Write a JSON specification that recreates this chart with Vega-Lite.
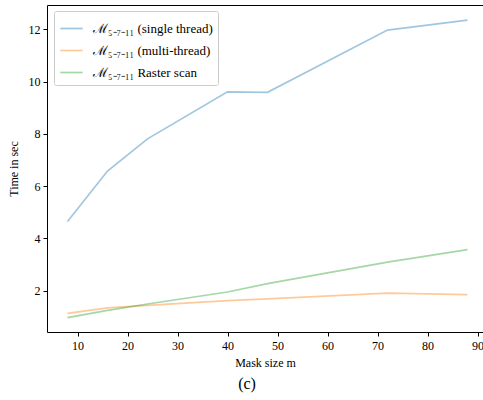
{
  "$schema": "https://vega.github.io/schema/vega-lite/v6.json",
  "width": 436,
  "height": 327,
  "autosize": "none",
  "padding": {"left": 47, "top": 5, "right": 0, "bottom": 68},
  "background": "white",
  "config": {
    "font": "Liberation Serif",
    "view": {"stroke": "black", "strokeWidth": 1},
    "axis": {"grid": false, "domain": false, "tickColor": "black", "tickSize": 4, "labelColor": "black", "titleColor": "black", "labelFont": "Liberation Serif", "titleFont": "Liberation Serif", "labelFontSize": 12, "titleFontSize": 12, "titleFontWeight": "normal"}
  },
  "title": {"text": "(c)", "orient": "bottom", "anchor": "middle", "fontSize": 16, "fontWeight": "normal", "font": "Liberation Serif", "offset": 8, "dx": -18, "color": "black"},
  "data": {"values": [
    {"m": 8, "t": 4.65, "s": "ℳ₅₋₇₋₁₁ (single thread)"},
    {"m": 16, "t": 6.58, "s": "ℳ₅₋₇₋₁₁ (single thread)"},
    {"m": 24, "t": 7.81, "s": "ℳ₅₋₇₋₁₁ (single thread)"},
    {"m": 40, "t": 9.61, "s": "ℳ₅₋₇₋₁₁ (single thread)"},
    {"m": 48, "t": 9.59, "s": "ℳ₅₋₇₋₁₁ (single thread)"},
    {"m": 72, "t": 11.97, "s": "ℳ₅₋₇₋₁₁ (single thread)"},
    {"m": 88, "t": 12.35, "s": "ℳ₅₋₇₋₁₁ (single thread)"},
    {"m": 8, "t": 1.13, "s": "ℳ₅₋₇₋₁₁ (multi-thread)"},
    {"m": 16, "t": 1.34, "s": "ℳ₅₋₇₋₁₁ (multi-thread)"},
    {"m": 24, "t": 1.44, "s": "ℳ₅₋₇₋₁₁ (multi-thread)"},
    {"m": 40, "t": 1.62, "s": "ℳ₅₋₇₋₁₁ (multi-thread)"},
    {"m": 48, "t": 1.69, "s": "ℳ₅₋₇₋₁₁ (multi-thread)"},
    {"m": 72, "t": 1.91, "s": "ℳ₅₋₇₋₁₁ (multi-thread)"},
    {"m": 88, "t": 1.85, "s": "ℳ₅₋₇₋₁₁ (multi-thread)"},
    {"m": 8, "t": 0.97, "s": "ℳ₅₋₇₋₁₁ Raster scan"},
    {"m": 16, "t": 1.25, "s": "ℳ₅₋₇₋₁₁ Raster scan"},
    {"m": 24, "t": 1.49, "s": "ℳ₅₋₇₋₁₁ Raster scan"},
    {"m": 40, "t": 1.95, "s": "ℳ₅₋₇₋₁₁ Raster scan"},
    {"m": 48, "t": 2.27, "s": "ℳ₅₋₇₋₁₁ Raster scan"},
    {"m": 72, "t": 3.09, "s": "ℳ₅₋₇₋₁₁ Raster scan"},
    {"m": 88, "t": 3.57, "s": "ℳ₅₋₇₋₁₁ Raster scan"}
  ]},
  "mark": {"type": "line", "strokeWidth": 1.7, "opacity": 0.42, "clip": true},
  "encoding": {
    "x": {"field": "m", "type": "quantitative", "scale": {"domain": [3.9, 91.1], "nice": false, "zero": false}, "axis": {"values": [10, 20, 30, 40, 50, 60, 70, 80, 90], "title": "Mask size m", "titlePadding": 6, "labelPadding": 4}},
    "y": {"field": "t", "type": "quantitative", "scale": {"domain": [0.42, 12.93], "nice": false, "zero": false}, "axis": {"values": [2, 4, 6, 8, 10, 12], "title": "Time in sec", "titlePadding": 8, "labelPadding": 3}},
    "color": {"field": "s", "type": "nominal", "sort": ["ℳ₅₋₇₋₁₁ (single thread)", "ℳ₅₋₇₋₁₁ (multi-thread)", "ℳ₅₋₇₋₁₁ Raster scan"],
      "scale": {"range": ["#1f77b4", "#ff7f0e", "#2ca02c"]},
      "legend": {"title": null, "orient": "none", "legendX": 7, "legendY": 6, "symbolType": "stroke", "symbolSize": 500, "symbolStrokeWidth": 1.7, "symbolOpacity": 0.42, "labelFontSize": 13, "labelFont": "Liberation Serif", "labelColor": "black", "rowPadding": 2, "padding": 5, "strokeColor": "#cccccc", "fillColor": "white", "cornerRadius": 2, "labelOffset": 9}}
  }
}
